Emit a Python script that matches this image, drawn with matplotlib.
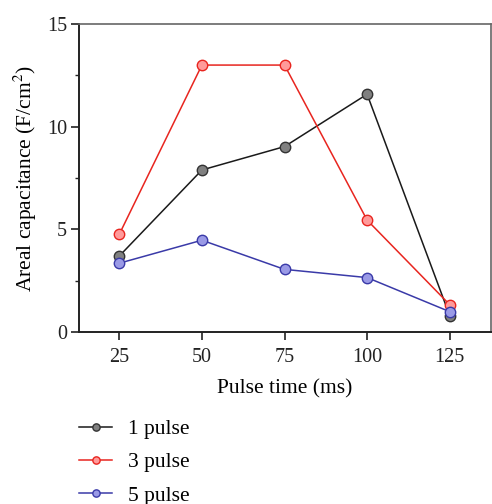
import matplotlib
matplotlib.use("Agg")
import matplotlib.pyplot as plt
from matplotlib.ticker import MultipleLocator

plt.rcParams['font.family'] = ['Liberation Serif', 'DejaVu Serif']
plt.rcParams['mathtext.fontset'] = 'stix'

pulse_time = [25, 50, 75, 100, 125]
one_pulse = [3.70, 7.89, 9.03, 11.58, 0.80]
three_pulse = [4.76, 13.0, 13.0, 5.45, 1.33]
five_pulse = [3.35, 4.47, 3.05, 2.65, 0.99]
labels = ['1 pulse', '3 pulse', '5 pulse']

fig = plt.figure(figsize=(4.92, 5.04), dpi=100)
ax = fig.add_axes([79/492, 1-332/504, (491-79)/492, (332-24)/504])

styles = [
    (one_pulse, '#1a1a1a', '#808080', '#333333'),
    (three_pulse, '#e8251f', '#ff9a9a', '#e8251f'),
    (five_pulse, '#3a3aa8', '#9a9ae6', '#3a3aa8'),
]
handles = []
for (vals, lc, fc, ec), lab in zip(styles, labels):
    h, = ax.plot(pulse_time, vals, '-', color=lc, lw=1.1, marker='o', ms=7.5,
                 mfc=fc, mec=ec, mew=1.0, label=lab)
    handles.append(h)

ax.set_xlim(12.8, 137.5)
ax.set_ylim(0, 15)
ax.set_xticks(pulse_time)
ax.yaxis.set_major_locator(MultipleLocator(5))
ax.yaxis.set_minor_locator(MultipleLocator(2.5))
ax.tick_params(direction='out', labelsize=14.5, length=5.5, width=1.2, colors='#222222', pad=3)
ax.tick_params(axis='x', pad=6)
ax.tick_params(which='minor', direction='out', length=3, width=1.0, colors='#222222')
ax.tick_params(axis='x', which='minor', bottom=False)
for s in ['left', 'bottom']:
    ax.spines[s].set_linewidth(1.4)
    ax.spines[s].set_color('#222222')
for s in ['top', 'right']:
    ax.spines[s].set_linewidth(1.2)
    ax.spines[s].set_color('#666666')

ax.set_xlabel('Pulse time (ms)', fontsize=15.5, labelpad=9)
ax.set_ylabel('Areal capacitance (F/cm$^2$)', fontsize=15.5, labelpad=6)

fig.legend(handles=handles, labels=labels, loc='upper left',
           bbox_to_anchor=(79/492, 1-419/504), frameon=False, fontsize=15.5,
           handlelength=1.55, labelspacing=0.62, handletextpad=0.72, markerscale=0.7,
           borderaxespad=0, borderpad=0)

fig.savefig('out.png', dpi=100)
